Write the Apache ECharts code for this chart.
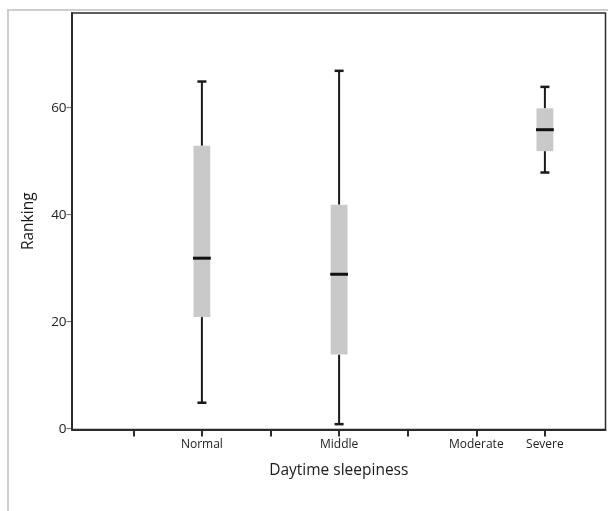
<!DOCTYPE html>
<html>
<head>
<meta charset="utf-8">
<style>html,body{margin:0;padding:0;background:#fff;}#chart{width:608px;height:511px;}</style>
<script src="https://cdn.jsdelivr.net/npm/echarts@6/dist/echarts.min.js"></script>
</head>
<body>
<div id="chart"></div>
<script>
// Category slots along the x axis (tick positions); only some carry labels
var categories = ['slot0', 'Normal', 'slot2', 'Middle', 'slot4', 'Moderate', 'Severe'];
var tickLabels = ['', 'Normal', '', 'Middle', '', 'Moderate', 'Severe'];
// Box statistics per slot (null = no box)
var mins    = [null, 5,  null, 1,  null, null, 48];
var q1s     = [null, 21, null, 14, null, null, 52];
var medians = [null, 32, null, 29, null, null, 56];
var q3s     = [null, 53, null, 42, null, null, 60];
var maxs    = [null, 65, null, 67, null, null, 64];
var yTicks = [0, 20, 40, 60];

var FONT = 'Open Sans';
var data = [];
for (var i = 0; i < categories.length; i++) {
  if (medians[i] === null) continue;
  data.push([i, mins[i], q1s[i], medians[i], q3s[i], maxs[i]]);
}

function renderBox(params, api) {
  var x = api.value(0);
  var pMin = api.coord([x, api.value(1)]);
  var pQ1 = api.coord([x, api.value(2)]);
  var pMed = api.coord([x, api.value(3)]);
  var pQ3 = api.coord([x, api.value(4)]);
  var pMax = api.coord([x, api.value(5)]);
  var band = api.size([1, 0])[0];
  var bw = band * 0.245;
  var cap = 9;
  var cx = pMed[0];
  var lineStyle = {stroke: '#1a1a1a', lineWidth: 2};
  return {
    type: 'group',
    children: [
      {type: 'line', shape: {x1: cx, y1: pQ3[1], x2: cx, y2: pMax[1]}, style: lineStyle},
      {type: 'line', shape: {x1: cx, y1: pQ1[1], x2: cx, y2: pMin[1]}, style: lineStyle},
      {type: 'line', shape: {x1: cx - cap / 2, y1: pMax[1], x2: cx + cap / 2, y2: pMax[1]}, style: {stroke: '#1a1a1a', lineWidth: 2.5}},
      {type: 'line', shape: {x1: cx - cap / 2, y1: pMin[1], x2: cx + cap / 2, y2: pMin[1]}, style: {stroke: '#1a1a1a', lineWidth: 2.5}},
      {type: 'rect', shape: {x: cx - bw / 2, y: pQ3[1], width: bw, height: pQ1[1] - pQ3[1]}, style: {fill: '#c9c9c9', stroke: null}},
      {type: 'line', shape: {x1: cx - bw / 2 - 0.5, y1: pMed[1], x2: cx + bw / 2 + 0.5, y2: pMed[1]}, style: {stroke: '#111', lineWidth: 3}}
    ]
  };
}

var chart = echarts.init(document.getElementById('chart'), null, {renderer: 'canvas'});
chart.setOption({
  animation: false,
  backgroundColor: '#fff',
  graphic: [{
    type: 'rect', z: -10, silent: true,
    shape: {x: 8, y: 10, width: 700, height: 600},
    style: {fill: null, stroke: '#cfcfcf', lineWidth: 2}
  }],
  grid: [
    {left: 72, right: 2.5, top: 13, bottom: 81.5, show: true, borderColor: '#2a2a2a', borderWidth: 1.5},
    {left: 99, width: 480.2, top: 13, bottom: 81.5}
  ],
  xAxis: [
    {gridIndex: 0, type: 'value', min: 0, max: 1, axisLine: {show: true, lineStyle: {color: '#2a2a2a', width: 2}}, axisTick: {show: false}, axisLabel: {show: false}, splitLine: {show: false},
     name: 'Daytime sleepiness', nameLocation: 'middle', nameGap: 33, nameTextStyle: {fontFamily: FONT, fontSize: 15.5, color: '#1a1a1a'}},
    {gridIndex: 1, type: 'category', data: categories, boundaryGap: true,
     axisLine: {show: false},
     axisTick: {show: true, alignWithLabel: true, interval: 0, length: 7, lineStyle: {color: '#2a2a2a', width: 2}},
     axisLabel: {interval: 0, margin: 9, fontFamily: FONT, fontSize: 12, color: '#222',
       formatter: function (v, idx) { return tickLabels[idx]; }},
     splitLine: {show: false}}
  ],
  yAxis: [
    {gridIndex: 0, type: 'value', min: 0, max: 77.8, interval: 20,
     axisLine: {show: true, onZero: false, lineStyle: {color: '#2a2a2a', width: 2}},
     axisTick: {show: false},
     axisLabel: {margin: 0, fontFamily: FONT, fontSize: 13.5, color: '#222',
       formatter: function (v) { return yTicks.indexOf(v) >= 0 ? '{n|' + v + '}{t|\u2500}' : ''; },
       rich: {
         n: {fontFamily: FONT, fontSize: 13.5, color: '#222'},
         t: {fontFamily: 'DejaVu Sans', fontSize: 9, color: '#333'}
       }},
     splitLine: {show: false},
     name: 'Ranking', nameLocation: 'middle', nameGap: 35, nameRotate: 90,
     nameTextStyle: {fontFamily: FONT, fontSize: 15.5, color: '#1a1a1a'}},
    {gridIndex: 1, type: 'value', min: 0, max: 77.8, show: false}
  ],
  series: [{
    type: 'custom', xAxisIndex: 1, yAxisIndex: 1,
    renderItem: renderBox,
    encode: {x: 0, y: [1, 2, 3, 4, 5]},
    data: data
  }]
});
</script>
</body>
</html>
